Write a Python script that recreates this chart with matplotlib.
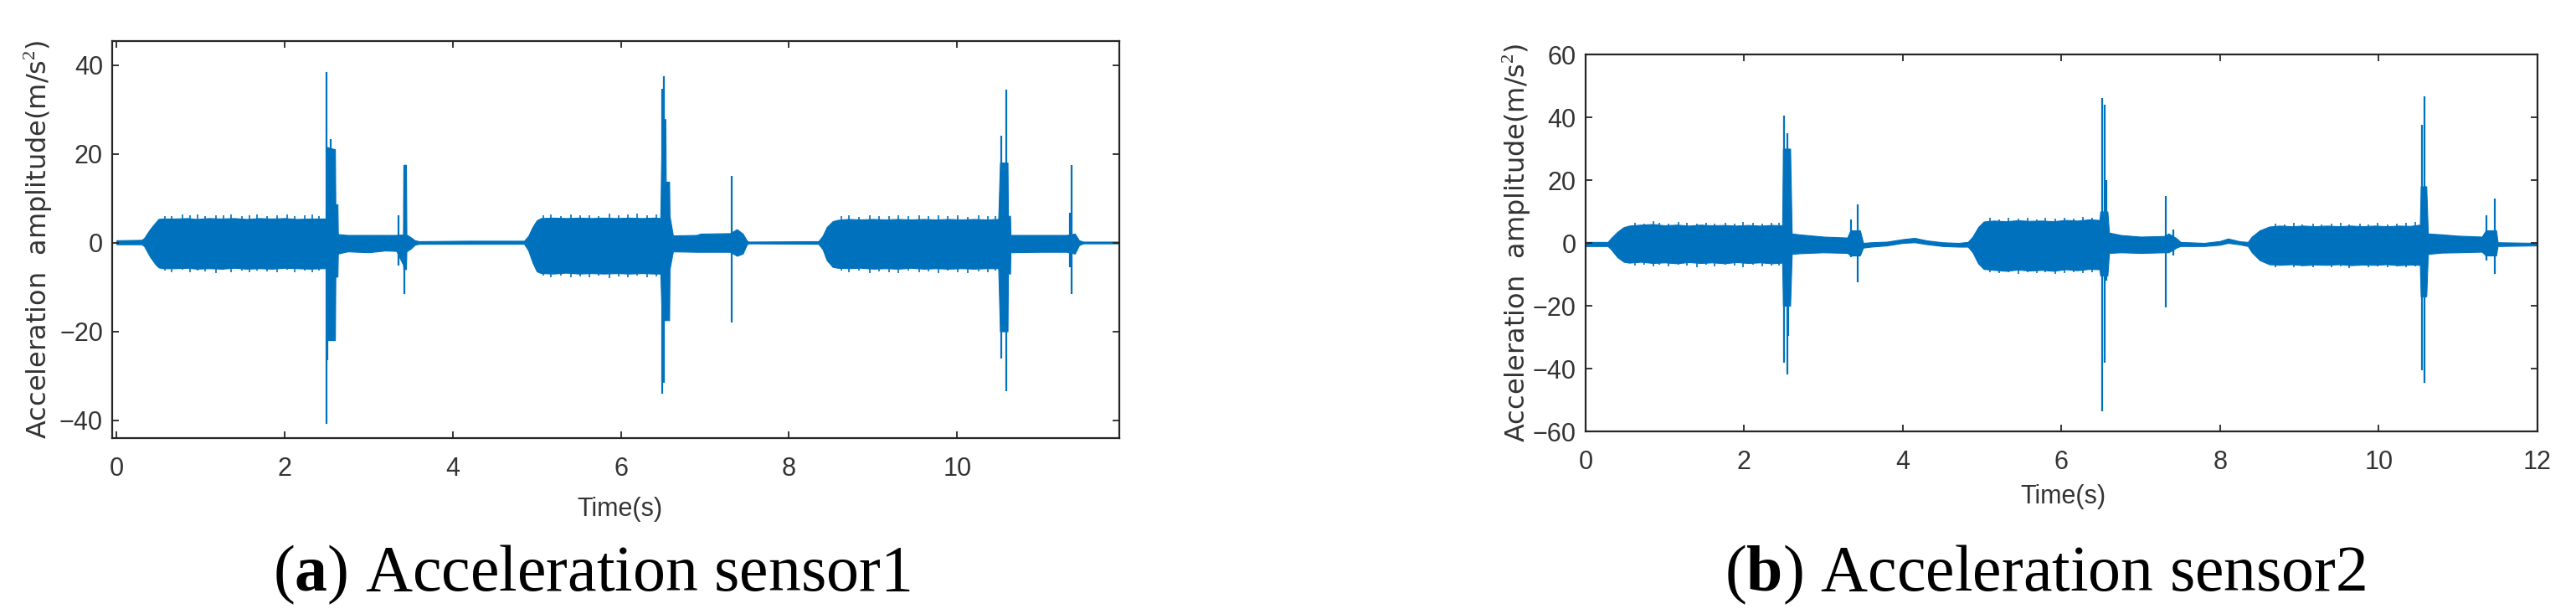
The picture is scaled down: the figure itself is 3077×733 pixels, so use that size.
import matplotlib
matplotlib.use('Agg')
from matplotlib import pyplot as plt

plt.rcParams['mathtext.fontset'] = 'custom'
plt.rcParams['mathtext.rm'] = 'Liberation Serif'
plt.rcParams['mathtext.bf'] = 'Liberation Serif:bold'

blue = '#0072BD'
ink = '#262626'

# sensor 1: envelope of the signal (time, upper, lower)
t1 = [0.00, 0.30, 0.33, 0.40, 0.46, 0.50, 0.55, 0.70, 0.85, 0.95, 1.10, 1.25, 1.40, 1.55,
      1.70, 1.85, 2.00, 2.15, 2.30, 2.45, 2.49, 2.505, 2.60, 2.605, 2.63, 2.635, 2.75, 3.00,
      3.20, 3.33, 3.41, 3.415, 3.445, 3.45, 3.50, 3.55, 3.60, 4.20, 4.85, 4.90, 4.95, 5.00,
      5.05, 5.20, 5.35, 5.50, 5.65, 5.80, 5.95, 6.10, 6.25, 6.40, 6.47, 6.49, 6.53, 6.535,
      6.575, 6.58, 6.62, 6.90, 6.95, 7.30, 7.38, 7.45, 7.50, 7.52, 8.35, 8.40, 8.45, 8.52,
      8.58, 8.70, 8.85, 9.00, 9.15, 9.30, 9.45, 9.60, 9.75, 9.90, 10.05, 10.20, 10.35, 10.49,
      10.51, 10.60, 10.605, 10.63, 10.635, 11.00, 11.30, 11.40, 11.45, 11.50, 11.93]
up1 = [0.5, 0.6, 1.0, 3.0, 4.4, 5.3, 5.4, 5.4, 5.5, 5.3, 5.5, 5.4, 5.5, 5.3,
       5.5, 5.4, 5.5, 5.3, 5.4, 5.4, 5.4, 21.5, 21.0, 8.6, 8.6, 1.9, 1.7, 1.7,
       1.7, 1.7, 1.8, 17.5, 17.5, 1.8, 1.2, 0.5, 0.3, 0.4, 0.4, 1.5, 3.5, 5.0,
       5.5, 5.6, 5.5, 5.6, 5.5, 5.6, 5.5, 5.6, 5.5, 5.6, 5.5, 27.8, 27.8, 13.7,
       13.7, 6.0, 1.6, 1.7, 2.0, 2.1, 3.0, 2.0, 0.4, 0.2, 0.3, 1.5, 3.5, 4.8,
       5.1, 5.3, 5.2, 5.3, 5.2, 5.3, 5.2, 5.3, 5.2, 5.3, 5.2, 5.3, 5.2, 5.3,
       18.0, 18.0, 6.0, 6.0, 1.7, 1.7, 1.7, 2.0, 0.5, 0.2, 0.2]
lo1 = [-0.4, -0.4, -0.8, -3.2, -4.8, -5.6, -5.8, -5.8, -5.7, -5.9, -5.8, -5.9, -5.7, -5.9,
       -5.8, -5.9, -5.7, -5.8, -5.9, -5.8, -5.8, -22.0, -22.0, -7.7, -7.7, -2.5, -2.0, -2.2,
       -1.8, -1.9, -5.0, -6.0, -6.0, -2.0, -1.4, -0.5, -0.3, -0.3, -0.3, -1.8, -4.5, -6.5,
       -6.9, -7.0, -6.8, -7.0, -6.9, -7.0, -6.9, -7.0, -6.9, -7.0, -7.0, -17.5, -17.5, -17.5,
       -17.5, -6.0, -2.0, -2.1, -2.1, -2.1, -3.0, -2.5, -0.4, -0.2, -0.3, -1.5, -4.0, -5.5,
       -5.7, -5.8, -5.7, -5.9, -5.8, -5.9, -5.7, -5.9, -5.8, -5.9, -5.8, -5.9, -5.8, -5.8,
       -20.0, -20.0, -7.0, -7.0, -2.2, -2.1, -2.1, -2.5, -0.6, -0.2, -0.2]

# sensor 1: small peaks sticking out of the bursts (time, top, bottom)
fr1_t = [0.58, 0.66, 0.79, 0.88, 0.97, 1.06, 1.18, 1.27, 1.36, 1.49, 1.58, 1.67, 1.79, 1.91,
         2.03, 2.12, 2.24, 2.33, 2.41, 5.08, 5.17, 5.29, 5.41, 5.52, 5.63, 5.74, 5.86, 5.97,
         6.08, 6.19, 6.31, 6.42, 8.62, 8.71, 8.83, 8.96, 9.07, 9.19, 9.30, 9.42, 9.55, 9.66,
         9.78, 9.89, 10.01, 10.13, 10.26, 10.37, 10.46]
fr1_hi = [6.0, 5.9, 6.3, 6.1, 6.4, 5.9, 6.2, 6.1, 6.3, 5.9, 6.2, 6.4, 6.0, 6.2,
          6.3, 5.9, 6.1, 6.3, 6.0, 6.1, 6.3, 6.0, 6.4, 6.1, 6.2, 6.0, 6.5, 6.1,
          6.3, 6.5, 6.2, 6.4, 5.9, 6.1, 5.8, 6.2, 6.0, 5.9, 6.1, 6.0, 6.2, 5.9,
          6.1, 6.0, 6.2, 5.8, 6.1, 6.0, 5.9]
fr1_lo = [-6.4, -6.6, -6.2, -6.7, -6.3, -6.5, -6.8, -6.2, -6.6, -6.4, -6.7, -6.3, -6.5, -6.6,
          -6.2, -6.7, -6.4, -6.6, -6.3, -7.5, -7.8, -7.4, -7.9, -7.6, -7.8, -7.5, -8.0, -7.6,
          -7.9, -7.5, -7.8, -7.6, -6.4, -6.7, -6.3, -6.8, -6.5, -6.6, -6.9, -6.4, -6.7, -6.5,
          -6.8, -6.4, -6.6, -6.9, -6.5, -6.7, -6.4]

# sensor 1: isolated spikes (time, top, bottom)
sp1_t = [2.50, 2.51, 2.55, 3.36, 3.43, 6.49, 6.51, 6.55, 7.32, 10.52, 10.58, 11.34, 11.36]
sp1_hi = [38.4, 21.5, 23.3, 6.1, 17.5, 34.7, 37.4, 13.7, 15.0, 24.0, 34.4, 6.7, 17.5]
sp1_lo = [-40.8, -26.6, -22.0, -5.2, -11.6, -34.0, -31.6, -17.5, -18.1, -26.1, -33.5, -5.5, -11.6]

# sensor 2: envelope of the signal (time, upper, lower)
t2 = [0.00, 0.28, 0.32, 0.40, 0.48, 0.55, 0.70, 0.85, 1.00, 1.15, 1.30, 1.45, 1.60, 1.75,
      1.90, 2.05, 2.20, 2.35, 2.48, 2.49, 2.58, 2.60, 2.70, 3.00, 3.30, 3.34, 3.46, 3.50,
      3.60, 3.80, 4.00, 4.15, 4.30, 4.50, 4.70, 4.82, 4.88, 4.95, 5.02, 5.15, 5.30, 5.45,
      5.60, 5.75, 5.90, 6.05, 6.20, 6.35, 6.48, 6.49, 6.58, 6.60, 6.75, 7.00, 7.30, 7.35,
      7.45, 7.50, 7.80, 8.00, 8.10, 8.25, 8.35, 8.40, 8.50, 8.62, 8.75, 8.90, 9.05, 9.20,
      9.35, 9.50, 9.65, 9.80, 9.95, 10.10, 10.25, 10.40, 10.52, 10.53, 10.60, 10.62, 10.80,
      11.00, 11.30, 11.35, 11.48, 11.50, 12.00]
up2 = [0.3, 0.3, 1.5, 3.5, 5.0, 5.5, 5.8, 6.0, 5.6, 5.8, 5.5, 5.8, 5.6, 5.7,
       5.5, 5.7, 5.5, 5.7, 5.6, 30.0, 30.0, 3.0, 2.7, 2.0, 1.7, 4.0, 4.0, 0.0,
       0.2, 0.4, 1.2, 1.6, 0.8, 0.2, 0.0, 0.3, 2.0, 5.0, 6.8, 7.1, 6.9, 7.2,
       7.0, 7.1, 6.9, 7.3, 7.1, 7.5, 7.3, 10.0, 10.0, 3.3, 2.5, 2.0, 2.2, 3.0,
       1.5, 0.3, 0.0, 0.6, 1.4, 0.5, 0.3, 2.0, 4.0, 5.2, 5.5, 5.3, 5.5, 5.3,
       5.5, 5.3, 5.5, 5.3, 5.5, 5.3, 5.5, 5.4, 5.8, 18.0, 18.0, 3.0, 2.7,
       2.3, 2.0, 4.0, 4.0, 0.2, 0.0]
lo2 = [-1.0, -1.0, -2.0, -4.5, -6.0, -6.3, -6.0, -6.4, -6.2, -6.5, -6.1, -6.4, -6.2, -6.5,
       -6.1, -6.4, -6.2, -6.5, -6.3, -20.0, -20.0, -3.5, -3.3, -3.0, -3.2, -4.0, -4.0, -1.5,
       -1.2, -0.8, 0.0, 0.2, -0.4, -1.0, -1.2, -1.2, -3.0, -6.5, -8.3, -8.6, -8.9, -8.5,
       -8.8, -8.6, -8.9, -8.4, -8.7, -8.3, -8.4, -10.4, -10.4, -3.2, -3.0, -3.2, -3.0, -3.0,
       -1.5, -1.0, -1.0, -0.6, 0.0, -0.5, -1.0, -3.0, -5.5, -6.8, -7.0, -6.8, -7.1, -6.9,
       -7.0, -6.8, -7.1, -6.9, -7.0, -6.8, -7.1, -6.9, -7.0, -17.0, -17.0, -3.5, -3.1,
       -3.0, -2.8, -4.0, -4.0, -1.0, -0.8]

# sensor 2: small peaks sticking out of the bursts (time, top, bottom)
fr2_t = [0.62, 0.74, 0.86, 0.93, 1.05, 1.17, 1.28, 1.41, 1.52, 1.63, 1.76, 1.88, 1.99, 2.11,
         2.23, 2.34, 2.44, 5.10, 5.21, 5.33, 5.46, 5.57, 5.69, 5.80, 5.92, 6.04, 6.15, 6.27,
         6.39, 8.70, 8.81, 8.93, 9.04, 9.17, 9.28, 9.40, 9.52, 9.63, 9.76, 9.87, 9.99, 10.11,
         10.23, 10.34, 10.46]
fr2_hi = [6.5, 6.2, 7.0, 6.4, 6.1, 6.6, 6.3, 6.2, 6.5, 6.1, 6.4, 6.2, 6.6, 6.3,
          6.1, 6.5, 6.4, 7.9, 7.6, 8.0, 7.7, 7.9, 7.5, 8.1, 7.7, 8.0, 7.8, 8.3,
          8.1, 6.2, 5.9, 6.3, 6.0, 6.2, 5.9, 6.1, 6.4, 6.0, 6.2, 5.9, 6.3, 6.0,
          6.2, 6.4, 6.6]
fr2_lo = [-7.2, -6.9, -7.4, -7.0, -7.5, -6.9, -7.3, -7.6, -7.0, -7.4, -6.9, -7.3, -7.6, -7.0,
          -7.4, -7.1, -7.3, -9.3, -9.6, -9.2, -9.8, -9.4, -9.7, -9.3, -9.9, -9.5, -9.2, -9.6,
          -9.3, -7.6, -7.3, -7.8, -7.4, -7.7, -7.2, -7.8, -7.5, -7.9, -7.3, -7.7, -7.5, -7.8,
          -7.4, -7.7, -7.5]

# sensor 2: isolated spikes (time, top, bottom)
sp2_t = [2.50, 2.54, 2.56, 3.345, 3.43, 6.51, 6.55, 6.57, 7.32, 7.41, 10.545, 10.58, 11.36, 11.46]
sp2_hi = [40.5, 35.0, 26.0, 7.5, 12.2, 46.2, 44.1, 20.0, 14.9, 4.3, 37.5, 46.8, 8.8, 14.1]
sp2_lo = [-38.0, -41.8, -29.5, -4.6, -12.5, -53.7, -38.0, -12.0, -20.5, -4.1, -40.5, -44.4, -5.7, -9.9]

xticks1 = [0, 2, 4, 6, 8, 10]
xticks2 = [0, 2, 4, 6, 8, 10, 12]
yticks1 = [-40, -20, 0, 20, 40]
yticks2 = [-60, -40, -20, 0, 20, 40, 60]

fig = plt.figure(figsize=(30.77, 7.33), dpi=100)
ax1 = fig.add_axes([0.04355, 0.2869, 0.3910, 0.6463])
ax2 = fig.add_axes([0.6155, 0.2974, 0.3695, 0.6139])


def draw(ax, t, up, lo, ft, fhi, flo, st, shi, slo, xlim, ylim, xticks, yticks):
    ax.fill_between(t, lo, up, color=blue, lw=0.8, edgecolor=blue)
    ax.vlines(ft, flo, fhi, color=blue, lw=1.2)
    ax.vlines(st, slo, shi, color=blue, lw=1.6)
    ax.set_xlim(*xlim)
    ax.set_ylim(*ylim)
    ax.set_xticks(xticks)
    ax.set_yticks(yticks)
    ax.tick_params(direction='in', top=True, right=True, length=6, width=1.3,
                   labelsize=22, labelcolor='#333333', color=ink)
    ax.tick_params(axis='x', pad=16)
    ax.tick_params(axis='y', pad=8)
    for s in ax.spines.values():
        s.set_linewidth(1.6)
        s.set_color(ink)
    for lab in ax.get_xticklabels() + ax.get_yticklabels():
        lab.set_fontfamily('Liberation Sans')
    ax.set_xlabel('Time(s)', fontsize=22, color='#333333', family='Liberation Sans')
    ax.set_ylabel('Acceleration  amplitude(m/s$^2$)', fontsize=23, color='#333333',
                  family='DejaVu Sans')


draw(ax1, t1, up1, lo1, fr1_t, fr1_hi, fr1_lo, sp1_t, sp1_hi, sp1_lo,
     (-0.05, 11.93), (-44, 45.4), xticks1, yticks1)
draw(ax2, t2, up2, lo2, fr2_t, fr2_hi, fr2_lo, sp2_t, sp2_hi, sp2_lo,
     (0, 12), (-60, 60), xticks2, yticks2)

ax1.xaxis.set_label_coords(0.504, -0.148)
ax2.xaxis.set_label_coords(0.502, -0.14)
ax1.yaxis.set_label_coords(-0.057, 0.5)
ax2.yaxis.set_label_coords(-0.055, 0.5)

fig.text(707 / 3077, 1 - 705 / 733, r'($\mathbf{a}$) Acceleration sensor1', ha='center',
         va='baseline', fontsize=56, family='Liberation Serif')
fig.text(2443 / 3077, 1 - 705 / 733, r'($\mathbf{b}$) Acceleration sensor2', ha='center',
         va='baseline', fontsize=56, family='Liberation Serif')

fig.savefig('out.png', dpi=100)
